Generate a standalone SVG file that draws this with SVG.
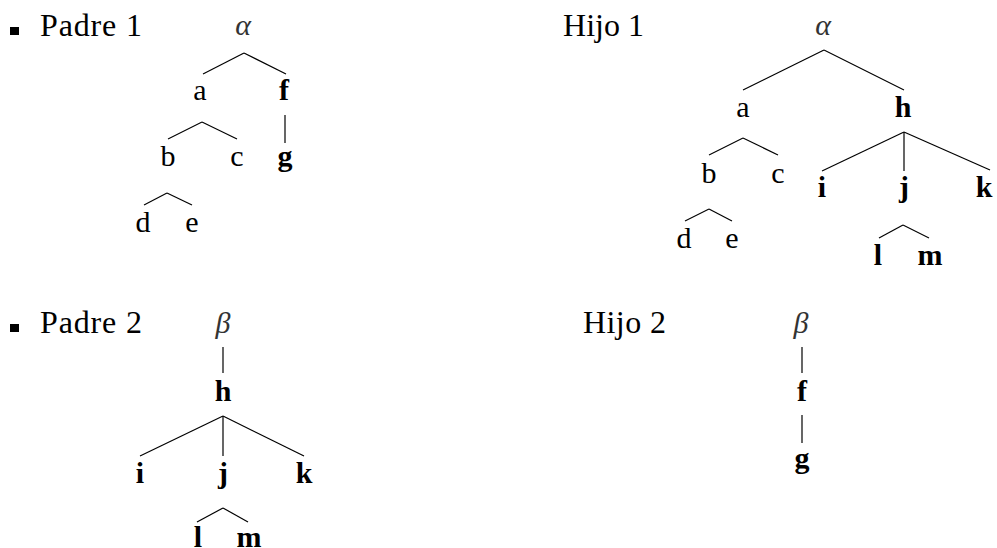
<svg xmlns="http://www.w3.org/2000/svg" width="997" height="548" viewBox="0 0 997 548">
<style>
text{font-family:"Liberation Serif","DejaVu Serif",serif;font-size:30px;fill:#000}
.n{text-anchor:middle}
.b{font-weight:bold}
.g{font-style:italic;fill:#333}
.lbl{text-anchor:start;font-size:32px}
#edges line{stroke:#000;stroke-width:1.2}
</style>
<rect width="997" height="548" fill="#fff"/>
<g id="labels">
<rect x="10" y="27" width="9" height="8" fill="#000"/>
<text class="lbl" x="40" y="36" textLength="102" lengthAdjust="spacing">Padre 1</text>
<rect x="10" y="324" width="9" height="8" fill="#000"/>
<text class="lbl" x="40" y="333" textLength="102" lengthAdjust="spacing">Padre 2</text>
<text class="lbl" x="563" y="36" textLength="81" lengthAdjust="spacing">Hijo 1</text>
<text class="lbl" x="583" y="333" textLength="83" lengthAdjust="spacing">Hijo 2</text>
</g>
<g id="edges">
<line x1="244" y1="53" x2="203" y2="74"/>
<line x1="244" y1="53" x2="286" y2="74"/>
<line x1="202" y1="122" x2="168" y2="139"/>
<line x1="202" y1="122" x2="237" y2="139"/>
<line x1="285" y1="115" x2="285" y2="143"/>
<line x1="167" y1="193" x2="144" y2="205"/>
<line x1="167" y1="193" x2="192" y2="205"/>
<line x1="824" y1="50" x2="743" y2="90"/>
<line x1="824" y1="50" x2="904" y2="90"/>
<line x1="743" y1="138" x2="709" y2="155"/>
<line x1="743" y1="138" x2="778" y2="155"/>
<line x1="904" y1="132" x2="822" y2="171"/>
<line x1="904" y1="132" x2="904" y2="171"/>
<line x1="904" y1="132" x2="990" y2="170"/>
<line x1="709" y1="209" x2="685" y2="221"/>
<line x1="709" y1="209" x2="732" y2="221"/>
<line x1="903" y1="225" x2="879" y2="238"/>
<line x1="903" y1="225" x2="929" y2="238"/>
<line x1="223" y1="347" x2="223" y2="373"/>
<line x1="223" y1="416" x2="140" y2="456"/>
<line x1="223" y1="416" x2="223" y2="456"/>
<line x1="223" y1="416" x2="304" y2="456"/>
<line x1="223" y1="508" x2="197" y2="522"/>
<line x1="223" y1="508" x2="248" y2="522"/>
<line x1="802" y1="347" x2="802" y2="373"/>
<line x1="802" y1="415" x2="802" y2="443"/>
</g>
<g id="tree-padre1">
<g id="p1-alpha"><text class="n g" x="243" y="35">α</text></g>
<g id="p1-a"><text class="n" x="200" y="100">a</text></g>
<g id="p1-f"><text class="n b" x="284" y="100">f</text></g>
<g id="p1-b"><text class="n" x="168" y="166">b</text></g>
<g id="p1-c"><text class="n" x="237" y="166">c</text></g>
<g id="p1-g"><text class="n b" x="285" y="166">g</text></g>
<g id="p1-d"><text class="n" x="143" y="232">d</text></g>
<g id="p1-e"><text class="n" x="192" y="232">e</text></g>
</g>
<g id="tree-hijo1">
<g id="h1-alpha"><text class="n g" x="823" y="35">α</text></g>
<g id="h1-a"><text class="n" x="743" y="117">a</text></g>
<g id="h1-h"><text class="n b" x="903" y="117">h</text></g>
<g id="h1-b"><text class="n" x="709" y="183">b</text></g>
<g id="h1-c"><text class="n" x="778" y="183">c</text></g>
<g id="h1-i"><text class="n b" x="822" y="197">i</text></g>
<g id="h1-j"><text class="n b" x="904" y="197">j</text></g>
<g id="h1-k"><text class="n b" x="984" y="197">k</text></g>
<g id="h1-d"><text class="n" x="684" y="248">d</text></g>
<g id="h1-e"><text class="n" x="732" y="248">e</text></g>
<g id="h1-l"><text class="n b" x="878" y="265">l</text></g>
<g id="h1-m"><text class="n b" x="930" y="265">m</text></g>
</g>
<g id="tree-padre2">
<g id="p2-beta"><text class="n g" x="223" y="333">β</text></g>
<g id="p2-h"><text class="n b" x="223" y="401">h</text></g>
<g id="p2-i"><text class="n b" x="140" y="483">i</text></g>
<g id="p2-j"><text class="n b" x="223" y="483">j</text></g>
<g id="p2-k"><text class="n b" x="304" y="483">k</text></g>
<g id="p2-l"><text class="n b" x="198" y="547">l</text></g>
<g id="p2-m"><text class="n b" x="249" y="547">m</text></g>
</g>
<g id="tree-hijo2">
<g id="h2-beta"><text class="n g" x="801" y="333">β</text></g>
<g id="h2-f"><text class="n b" x="802" y="401">f</text></g>
<g id="h2-g"><text class="n b" x="802" y="468">g</text></g>
</g>
</svg>
